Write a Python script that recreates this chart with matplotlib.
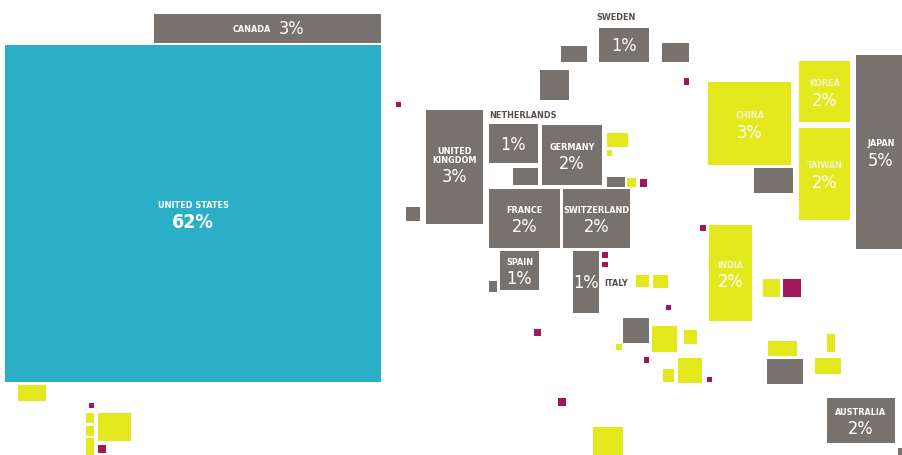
import matplotlib.pyplot as plt
from matplotlib.patches import Rectangle

GRAY = '#78726f'
TEAL = '#2aafc7'
YELLOW = '#e3e91d'
PURPLE = '#a2175a'

# labelled countries: name, share, colour, box (x, y, w, h) in map units
names = ['UNITED STATES', 'CANADA', 'UNITED\nKINGDOM', 'NETHERLANDS', 'GERMANY',
         'FRANCE', 'SWITZERLAND', 'SPAIN', 'ITALY', 'SWEDEN', 'CHINA', 'KOREA',
         'TAIWAN', 'JAPAN', 'INDIA', 'AUSTRALIA']
shares = [62, 3, 3, 1, 2, 2, 2, 1, 1, 1, 3, 2, 2, 5, 2, 2]
colours = [TEAL, GRAY, GRAY, GRAY, GRAY, GRAY, GRAY, GRAY, GRAY, GRAY,
           YELLOW, YELLOW, YELLOW, GRAY, YELLOW, GRAY]
box_x = [5, 154, 426, 489, 542, 489, 563, 500, 573, 599, 708, 799, 799, 856, 709, 827]
box_y = [45, 14, 110, 124, 125, 189, 189, 251, 251, 28, 82, 61, 128, 55, 225, 398]
box_w = [376, 227, 57, 49, 60, 71, 67, 39, 26, 50, 83, 51, 51, 50, 43, 68]
box_h = [337, 29, 114, 39, 60, 59, 59, 39, 62, 34, 83, 61, 92, 194, 96, 45]

# unlabelled countries, grouped by colour
gray_x = [561, 662, 540, 513, 607, 406, 489, 623, 754, 767, 898]
gray_y = [46, 43, 70, 168, 177, 207, 281, 318, 168, 359, 448]
gray_w = [26, 27, 29, 25, 18, 14, 8, 26, 39, 36, 6]
gray_h = [16, 19, 30, 17, 10, 14, 11, 25, 25, 25, 8]

yel_x = [607, 607, 627, 636, 653, 652, 684, 616, 663, 678, 763, 768, 827, 815,
         593, 18, 86, 86, 86, 98]
yel_y = [133, 150, 178, 275, 275, 326, 330, 344, 369, 358, 279, 341, 334, 358,
         427, 385, 413, 426, 438, 413]
yel_w = [21, 5, 9, 13, 15, 25, 13, 6, 11, 24, 17, 29, 8, 26, 30, 28, 8, 8, 8, 33]
yel_h = [14, 6, 9, 12, 13, 26, 14, 6, 13, 25, 18, 15, 18, 16, 30, 16, 10, 10, 20, 28]

pur_x = [684, 396, 640, 602, 602, 666, 534, 644, 707, 700, 783, 558, 89, 98]
pur_y = [78, 102, 179, 252, 262, 305, 329, 357, 377, 225, 279, 398, 403, 445]
pur_w = [5, 5, 7, 6, 6, 5, 7, 5, 5, 6, 18, 8, 5, 8]
pur_h = [7, 5, 8, 6, 5, 5, 7, 6, 5, 6, 18, 8, 5, 8]

fig = plt.figure(figsize=(9.02, 4.55), dpi=100)
ax = fig.add_axes([0, 0, 1, 1])
ax.set_xlim(0, 902)
ax.set_ylim(455, 0)
ax.axis('off')


def boxes(xs, ys, ws, hs, colour):
    for x, y, w, h in zip(xs, ys, ws, hs):
        ax.add_patch(Rectangle((x, y), w, h, facecolor=colour, edgecolor='none'))


boxes(gray_x, gray_y, gray_w, gray_h, GRAY)
boxes(yel_x, yel_y, yel_w, yel_h, YELLOW)
boxes(pur_x, pur_y, pur_w, pur_h, PURPLE)

font = dict(family='DejaVu Sans', fontstretch='condensed')
dark = '#555050'

for name, pct, col, x, y, w, h in zip(names, shares, colours, box_x, box_y, box_w, box_h):
    ax.add_patch(Rectangle((x, y), w, h, facecolor=col, edgecolor='none'))
    cx = x + w / 2
    cy = y + h / 2
    name_col = '#f4f4c8' if col == YELLOW else 'white'
    if name == 'CANADA':
        ax.text(cx - 16, cy + 1, name, color='white', fontsize=6.5, weight='bold',
                ha='center', va='center', **font)
        ax.text(cx + 24, cy + 1, f'{pct}%', color='white', fontsize=13,
                ha='center', va='center', **font)
    elif name == 'SWEDEN':
        ax.text(cx - 8, y - 10, name, color=dark, fontsize=6.5, weight='bold',
                ha='center', va='center', **font)
        ax.text(cx, cy + 1, f'{pct}%', color='white', fontsize=13,
                ha='center', va='center', **font)
    elif name == 'NETHERLANDS':
        ax.text(x, y - 8, name, color=dark, fontsize=6.5, weight='bold',
                ha='left', va='center', **font)
        ax.text(cx, cy + 1, f'{pct}%', color='white', fontsize=13,
                ha='center', va='center', **font)
    elif name == 'ITALY':
        ax.text(x + w + 5, cy + 1, name, color=dark, fontsize=6.5, weight='bold',
                ha='left', va='center', **font)
        ax.text(cx, cy + 1, f'{pct}%', color='white', fontsize=13,
                ha='center', va='center', **font)
    elif name == 'UNITED\nKINGDOM':
        ax.text(cx, cy - 2, name, color='white', fontsize=6.5, weight='bold',
                ha='center', va='bottom', linespacing=1.0, **font)
        ax.text(cx, cy + 10, f'{pct}%', color='white', fontsize=13,
                ha='center', va='center', **font)
    else:
        big = name == 'UNITED STATES'
        ax.text(cx, cy - 8, name, color=name_col, fontsize=6.5, weight='bold',
                ha='center', va='center', **font)
        ax.text(cx, cy + 9, f'{pct}%', color='white', fontsize=14 if big else 13,
                weight='bold' if big else 'normal', ha='center', va='center', **font)

fig.savefig('out.png', dpi=100)
